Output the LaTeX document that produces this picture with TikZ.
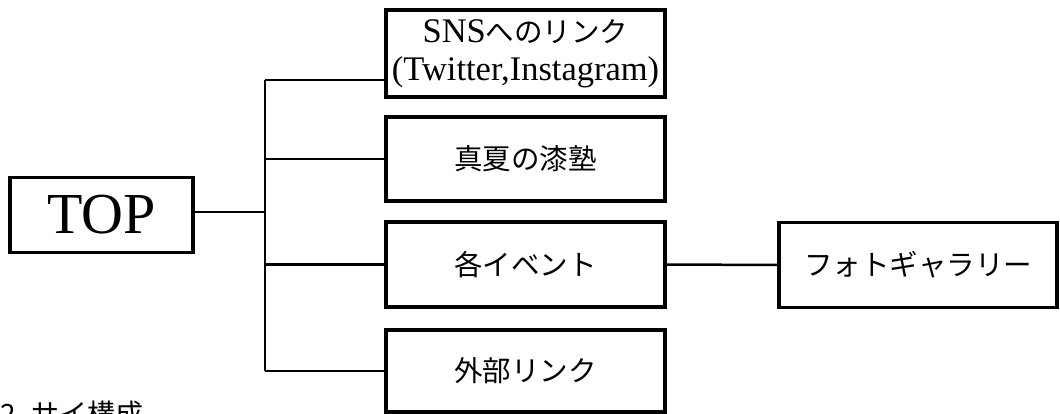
\documentclass[tikz,border=0pt]{standalone}
\usepackage{fontspec}
\setmainfont{Liberation Serif}
\newfontfamily\jp{Noto Sans CJK JP}
\begin{document}
\begin{tikzpicture}[x=1pt,y=-1pt,
  box/.style={draw,line width=3.6pt,minimum width=279pt,minimum height=84pt,inner sep=0pt,align=center,font=\jp\fontsize{28.5}{31}\selectfont},
  conn/.style={line width=2.5pt}]
\useasboundingbox (0,0) rectangle (1060,414);
\clip (0,0) rectangle (1060,414);
\node[box,minimum width=183pt,minimum height=75pt,font=\rmfamily\fontsize{58}{60}\selectfont] (top) at (101.5,215) {TOP};
\node[box,minimum height=87pt,font=\rmfamily\fontsize{34.5}{38}\selectfont] (sns) at (525.5,53.5) {SNS{\jp\fontsize{28.5}{38}\selectfont へのリンク}\\(Twitter,Instagram)};
\node[box] (manatsu) at (525.5,159) {真夏の漆塾};
\node[box,minimum height=85pt] (event) at (525.5,264.5) {各イベント};
\node[box,minimum height=82pt] (gaibu) at (525.5,371) {外部リンク};
\node[box,minimum width=278pt,minimum height=85pt] (photo) at (918,265) {フォトギャラリー};
\coordinate (bt) at (265,80);
\coordinate (bb) at (265,371);
\draw[conn] (bt) -- (bb);
\draw[conn] (top.east |- 0,212) -- (265,212);
\draw[conn] (bt) -- (bt -| sns.west);
\draw[conn] (manatsu.west -| bt) -- (manatsu.west);
\draw[conn] (event.west -| bt) -- (event.west);
\draw[conn] (bb) -- (gaibu.west);
\draw[conn] (event.east) -- (photo.west);
\node[anchor=base west,inner sep=0pt,font=\jp\fontsize{28}{30}\selectfont] (cap) at (0,424) {2. サイ構成};
\end{tikzpicture}
\end{document}
